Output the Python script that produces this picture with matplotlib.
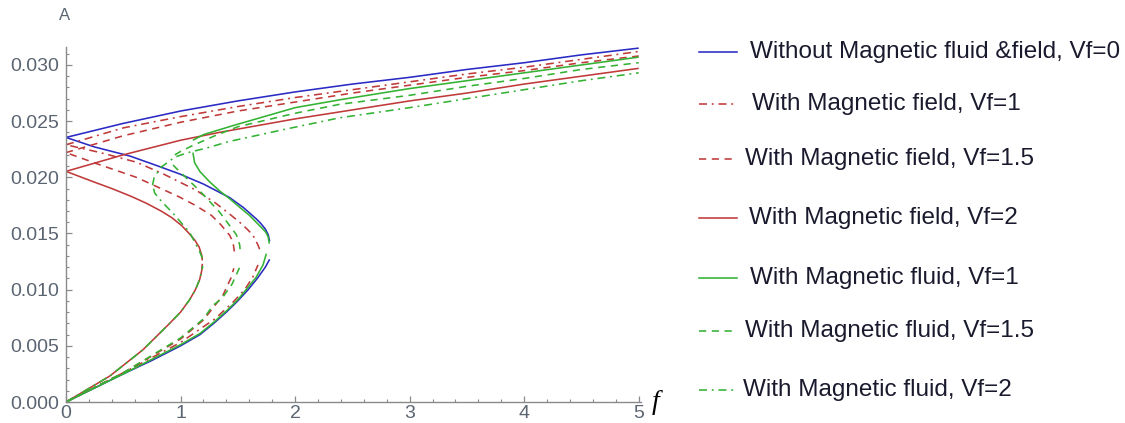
import matplotlib.pyplot as plt
from matplotlib.lines import Line2D
from matplotlib.ticker import MultipleLocator, FormatStrFormatter

BLUE = '#2a2ac4'
RED = '#c03a3a'
GREEN = '#33b233'

# Without magnetic fluid & field, Vf=0
b_low_f = [0, 0.25, 0.5, 0.75, 1.0, 1.17, 1.29, 1.40, 1.50, 1.59, 1.67, 1.74, 1.778]
b_low_A = [0, 0.00125, 0.0025, 0.0037, 0.0050, 0.0060, 0.0070, 0.0080, 0.0090, 0.0100, 0.0110, 0.0120, 0.0127]
b_mid_f = [1.778, 1.765, 1.74, 1.70, 1.661, 1.55, 1.428, 1.2, 0.992, 0.75, 0.556, 0.25, 0]
b_mid_A = [0.0143, 0.0149, 0.0154, 0.0159, 0.0163, 0.0173, 0.0182, 0.0194, 0.0203, 0.0212, 0.0219, 0.0227, 0.02355]
b_up_f = [0, 0.5, 1, 1.5, 2, 2.5, 3, 3.5, 4, 4.5, 5]
b_up_A = [0.02355, 0.0248, 0.0259, 0.0268, 0.0276, 0.0283, 0.0289, 0.0296, 0.0302, 0.0309, 0.0315]

# With magnetic field, Vf=1
fd1_low_f = [0, 0.5, 1.0, 1.3, 1.45, 1.56, 1.63, 1.676]
fd1_low_A = [0, 0.0026, 0.0053, 0.0074, 0.0088, 0.0100, 0.0111, 0.0122]
fd1_mid_f = [1.69, 1.675, 1.632, 1.58, 1.516, 1.42, 1.312, 1.138, 0.85, 0.614, 0.3, 0]
fd1_mid_A = [0.0136, 0.0140, 0.01485, 0.0154, 0.0160, 0.0168, 0.01766, 0.01884, 0.0203, 0.02135, 0.0222, 0.0229]
fd1_up_f = [0, 0.5, 1, 1.5, 2, 2.5, 3, 3.5, 4, 4.5, 5]
fd1_up_A = [0.0229, 0.0244, 0.0254, 0.0263, 0.0271, 0.0278, 0.0285, 0.0292, 0.0298, 0.0305, 0.0312]

# With magnetic field, Vf=1.5
fd15_low_f = [0, 0.5, 1.0, 1.2, 1.37, 1.443, 1.465]
fd15_low_A = [0, 0.0026, 0.0056, 0.0073, 0.0095, 0.0111, 0.0119]
fd15_mid_f = [1.47, 1.457, 1.428, 1.35, 1.269, 1.13, 0.992, 0.614, 0.3, 0]
fd15_mid_A = [0.0134, 0.01426, 0.01485, 0.0158, 0.01662, 0.0175, 0.01824, 0.0200, 0.0211, 0.0222]
fd15_up_f = [0, 0.5, 1, 1.5, 2, 2.5, 3, 3.5, 4, 4.5, 5]
fd15_up_A = [0.0222, 0.0237, 0.0249, 0.0259, 0.0267, 0.0275, 0.0282, 0.0289, 0.0295, 0.0302, 0.0308]

# With magnetic field, Vf=2
fd2_low_f = [0, 0.381, 0.672, 0.905, 1.0, 1.079, 1.13, 1.167, 1.185, 1.19]
fd2_low_A = [0, 0.0023, 0.00465, 0.0070, 0.0080, 0.0091, 0.0100, 0.0109, 0.0117, 0.0123]
fd2_mid_f = [1.19, 1.184, 1.162, 1.125, 1.075, 1.01, 0.925, 0.83, 0.70, 0.57, 0.40, 0.24, 0]
fd2_mid_A = [0.0126, 0.0131, 0.0138, 0.0144, 0.0150, 0.0157, 0.0164, 0.0170, 0.0177, 0.0183, 0.0190, 0.0196, 0.02053]
fd2_up_f = [0, 0.5, 1, 1.34, 2, 2.5, 3, 3.5, 4, 4.5, 5]
fd2_up_A = [0.02053, 0.0220, 0.0233, 0.0240, 0.0252, 0.0260, 0.0268, 0.0275, 0.0283, 0.0290, 0.0297]

# With magnetic fluid, Vf=1
fl1_low_f = [0, 0.5, 1.0, 1.17, 1.29, 1.40, 1.50, 1.58, 1.66, 1.72, 1.749]
fl1_low_A = [0, 0.0025, 0.0051, 0.0061, 0.0071, 0.0081, 0.0091, 0.0101, 0.0111, 0.0122, 0.0132]
fl1_mid_f = [1.775, 1.765, 1.745, 1.719, 1.66, 1.603, 1.52, 1.428, 1.34, 1.254, 1.17, 1.123, 1.108]
fl1_mid_A = [0.0141, 0.0147, 0.0151, 0.0154, 0.0160, 0.0166, 0.0173, 0.0181, 0.0188, 0.0196, 0.0205, 0.0213, 0.0222]
fl1_up_f = [1.108, 1.2, 1.457, 2, 2.39, 3, 3.5, 4, 4.5, 5]
fl1_up_A = [0.0233, 0.0238, 0.0246, 0.0262, 0.0269, 0.0279, 0.0286, 0.0293, 0.0300, 0.0307]

# With magnetic fluid, Vf=1.5
fl15_low_f = [0, 0.5, 1.0, 1.2, 1.283, 1.36, 1.45, 1.53]
fl15_low_A = [0, 0.0026, 0.0057, 0.0074, 0.0086, 0.0092, 0.0105, 0.0123]
fl15_mid_f = [1.52, 1.516, 1.487, 1.341, 1.167, 0.963, 0.934, 0.93]
fl15_mid_A = [0.0136, 0.0140, 0.0149, 0.0169, 0.0188, 0.0208, 0.0211, 0.0214]
fl15_up_f = [0.95, 1.0, 1.1, 1.3, 1.5, 2, 2.39, 3, 3.5, 4, 4.5, 5]
fl15_up_A = [0.0220, 0.0223, 0.0228, 0.0237, 0.0245, 0.0257, 0.0265, 0.0273, 0.0281, 0.0288, 0.0296, 0.0302]

# With magnetic fluid, Vf=2
fl2_low_f = [0, 0.381, 0.672, 0.905, 1.0, 1.079, 1.13, 1.167, 1.185, 1.195]
fl2_low_A = [0, 0.0023, 0.00465, 0.0070, 0.0080, 0.0091, 0.0100, 0.0109, 0.0117, 0.0121]
fl2_mid_f = [1.19, 1.167, 1.079, 0.934, 0.83, 0.775, 0.755]
fl2_mid_A = [0.0128, 0.0134, 0.0151, 0.0168, 0.0179, 0.0186, 0.0193]
fl2_up_f = [0.755, 0.77, 0.83, 0.95, 1.065, 1.225, 1.428, 1.923, 2.39, 3, 3.5, 4, 4.5, 5]
fl2_up_A = [0.0193, 0.0200, 0.0209, 0.0218, 0.0222, 0.0226, 0.0232, 0.0243, 0.0253, 0.0262, 0.0270, 0.0278, 0.0286, 0.0293]

DASHDOT = (0, (5, 3, 1.2, 3))
DASHED = (0, (4.5, 3.5))

series = [
    ("Without Magnetic fluid &field, Vf=0", BLUE, '-',
     [(b_low_f, b_low_A), (b_mid_f, b_mid_A), (b_up_f, b_up_A)]),
    ("With Magnetic field, Vf=1", RED, DASHDOT,
     [(fd1_low_f, fd1_low_A), (fd1_mid_f, fd1_mid_A), (fd1_up_f, fd1_up_A)]),
    ("With Magnetic field, Vf=1.5", RED, DASHED,
     [(fd15_low_f, fd15_low_A), (fd15_mid_f, fd15_mid_A), (fd15_up_f, fd15_up_A)]),
    ("With Magnetic field, Vf=2", RED, '-',
     [(fd2_low_f, fd2_low_A), (fd2_mid_f, fd2_mid_A), (fd2_up_f, fd2_up_A)]),
    ("With Magnetic fluid, Vf=1", GREEN, '-',
     [(fl1_low_f, fl1_low_A), (fl1_mid_f, fl1_mid_A), (fl1_up_f, fl1_up_A)]),
    ("With Magnetic fluid, Vf=1.5", GREEN, DASHED,
     [(fl15_low_f, fl15_low_A), (fl15_mid_f, fl15_mid_A), (fl15_up_f, fl15_up_A)]),
    ("With Magnetic fluid, Vf=2", GREEN, DASHDOT,
     [(fl2_low_f, fl2_low_A), (fl2_mid_f, fl2_mid_A), (fl2_up_f, fl2_up_A)]),
]

W, H = 1125, 423
fig = plt.figure(figsize=(W / 100, H / 100), dpi=100)
ax = fig.add_axes([66 / W, 21 / H, (641 - 66) / W, (402 - 47) / H])

for label, color, ls, branches in series:
    for f, A in branches:
        ax.plot(f, A, color=color, ls=ls, lw=1.15, solid_capstyle='butt')

ax.set_xlim(0, 5.02)
ax.set_ylim(0, 0.0316)
for side in ('top', 'right'):
    ax.spines[side].set_visible(False)
for side in ('left', 'bottom'):
    ax.spines[side].set_color('#8a8a8a')
    ax.spines[side].set_linewidth(1.0)

ax.xaxis.set_major_locator(MultipleLocator(1))
ax.xaxis.set_minor_locator(MultipleLocator(0.2))
ax.yaxis.set_major_locator(MultipleLocator(0.005))
ax.yaxis.set_minor_locator(MultipleLocator(0.001))
ax.yaxis.set_major_formatter(FormatStrFormatter('%.3f'))
ax.tick_params(which='both', direction='in', color='#8a8a8a', labelcolor='#5b6572',
               labelsize=14, labelfontfamily='Liberation Sans')
ax.tick_params(which='major', length=4.5, width=0.9)
ax.tick_params(which='minor', length=2.5, width=0.8)
ax.tick_params(axis='x', pad=2.5)
ax.tick_params(axis='y', pad=5)

fig.text(65 / W, 1 - 15 / H, 'A', color='#5b6572', fontsize=12,
         family='Liberation Sans', ha='center', va='center')
fig.text(656 / W, 1 - 402 / H, 'f', fontsize=20, style='italic',
         family='Liberation Serif', ha='center', va='center')

# legend drawn alongside the axes
rows_y = [52, 104, 159, 218, 278, 331, 390]
text_x = [750, 752, 745, 749, 750, 745, 743]
for (label, color, ls, _), y, tx in zip(series, rows_y, text_x):
    yf = 1 - y / H
    fig.add_artist(Line2D([699 / W, 737 / W], [yf, yf], transform=fig.transFigure,
                          color=color, ls=ls, lw=1.15))
    fig.text(tx / W, yf, label, fontsize=17.5, family='Liberation Sans',
             color='#1a1a2e', ha='left', va='center')

fig.savefig('out.png', dpi=100)
